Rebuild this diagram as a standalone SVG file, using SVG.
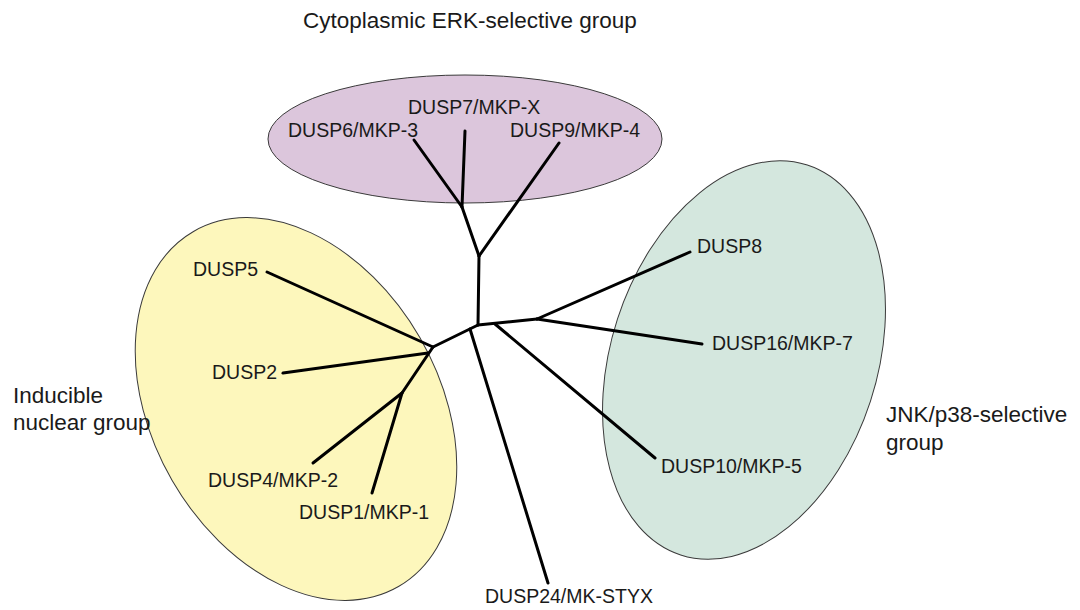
<svg xmlns="http://www.w3.org/2000/svg" width="1080" height="610" viewBox="0 0 1080 610">
<style>
.grp{stroke:#3a3a3a;stroke-width:1}
.lbl{font-family:"Liberation Sans",Arial,sans-serif;font-size:19.5px;fill:#1a1a1a}
.ttl{font-family:"Liberation Sans",Arial,sans-serif;font-size:22.5px;fill:#1a1a1a}
.edge{stroke:#000;stroke-width:3;stroke-linecap:round;fill:none}
</style>
<rect width="1080" height="610" fill="#fff"/>
<g id="group-erk">
<ellipse class="grp" cx="465" cy="139" rx="197" ry="64" fill="#dcc6dc"/>
<text class="ttl" x="303" y="28">Cytoplasmic ERK-selective group</text>
</g>
<g id="group-inducible">
<ellipse class="grp" cx="296" cy="409" rx="205" ry="143" transform="rotate(60 296 409)" fill="#fdf7bc"/>
<text class="ttl" x="13" y="403">Inducible</text>
<text class="ttl" x="13" y="430">nuclear group</text>
</g>
<g id="group-jnk">
<ellipse class="grp" cx="744" cy="360" rx="133" ry="205" transform="rotate(18 744 360)" fill="#d4e7de"/>
<text class="ttl" x="886" y="422">JNK/p38-selective</text>
<text class="ttl" x="886" y="450">group</text>
</g>
<g id="connectors">
<line class="edge" x1="414" y1="140" x2="462" y2="207"/>
<line class="edge" x1="465" y1="131" x2="462" y2="207"/>
<line class="edge" x1="462" y1="207" x2="479" y2="256"/>
<line class="edge" x1="559" y1="143" x2="479" y2="256"/>
<line class="edge" x1="479" y1="256" x2="478" y2="325"/>
<line class="edge" x1="478" y1="325" x2="433" y2="347"/>
<line class="edge" x1="433" y1="347" x2="267" y2="272"/>
<line class="edge" x1="433" y1="347" x2="402" y2="393"/>
<line class="edge" x1="428" y1="353" x2="283" y2="373"/>
<line class="edge" x1="402" y1="393" x2="313" y2="463"/>
<line class="edge" x1="402" y1="393" x2="372" y2="493"/>
<line class="edge" x1="470" y1="329" x2="548" y2="583"/>
<line class="edge" x1="478" y1="325" x2="537" y2="319"/>
<line class="edge" x1="537" y1="319" x2="690" y2="252"/>
<line class="edge" x1="537" y1="319" x2="702" y2="344"/>
<line class="edge" x1="495" y1="324" x2="655" y2="458"/>
</g>
<g id="dusp7"><text class="lbl" x="408" y="114">DUSP7/MKP-X</text></g>
<g id="dusp6"><text class="lbl" x="288" y="137">DUSP6/MKP-3</text></g>
<g id="dusp9"><text class="lbl" x="510" y="137">DUSP9/MKP-4</text></g>
<g id="dusp8"><text class="lbl" x="697" y="253">DUSP8</text></g>
<g id="dusp16"><text class="lbl" x="712" y="350">DUSP16/MKP-7</text></g>
<g id="dusp10"><text class="lbl" x="661" y="473">DUSP10/MKP-5</text></g>
<g id="dusp5"><text class="lbl" x="193" y="276">DUSP5</text></g>
<g id="dusp2"><text class="lbl" x="212" y="379">DUSP2</text></g>
<g id="dusp4"><text class="lbl" x="208" y="487">DUSP4/MKP-2</text></g>
<g id="dusp1"><text class="lbl" x="299" y="519">DUSP1/MKP-1</text></g>
<g id="dusp24"><text class="lbl" x="485" y="603">DUSP24/MK-STYX</text></g>
</svg>
